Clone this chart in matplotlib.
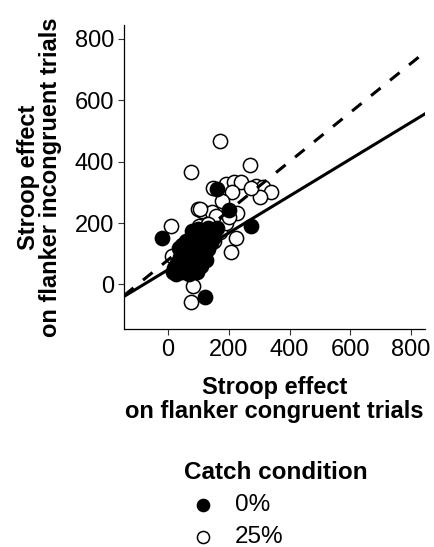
import matplotlib.pyplot as plt
import numpy as np

plt.rcParams["font.family"] = ["Liberation Sans", "DejaVu Sans"]

# Catch condition 25% (open circles)
open_x = [172, 76, 271, 149, 192, 218, 241, 291, 314, 340, 304, 212, 178, 99,
          112, 145, 228, 159, 10, 102, 130, 225, 208, 83, 76, 13, 272, 60, 120,
          150, 40, 90, 170, 190, 200, 105]
open_y = [466, 367, 388, 313, 326, 332, 332, 322, 316, 300, 286, 300, 271, 245,
          238, 235, 234, 222, 190, 190, 196, 152, 105, -5, -57, 93, 315, 100,
          120, 140, 60, 60, 170, 200, 220, 245]

# Catch condition 0% (filled circles)
filled_x = [274, 162, 202, -20, 122, 15, 20, 25, 30, 35, 40, 45, 50, 55, 60, 65,
            70, 75, 80, 85, 90, 95, 100, 105, 110, 115, 120, 125, 130, 140, 150,
            60, 45, 80, 100, 70, 90, 110, 55, 35, 130, 100, 160]
filled_y = [190, 310, 243, 150, -42, 40, 55, 35, 70, 50, 90, 40, 110, 65, 140,
            45, 100, 125, 60, 150, 85, 40, 120, 70, 140, 95, 160, 80, 115, 135,
            155, 80, 130, 175, 180, 35, 110, 60, 95, 120, 185, 150, 185]

# fitted lines (intercept, slope)
dashed_fit = (80, 0.80)
solid_fit = (48, 0.60)

xlim = (-145, 845)
ylim = (-145, 845)
ticks = [0, 200, 400, 600, 800]

fig = plt.figure(figsize=(4.34, 5.47), dpi=100)
ax = fig.add_axes([0.2857, 0.3985, 0.693, 0.556])

ax.scatter(open_x, open_y, s=105, facecolor="white", edgecolor="black",
           linewidth=1.1, zorder=2, label="25%")
ax.scatter(filled_x, filled_y, s=105, facecolor="black", edgecolor="black",
           linewidth=1.1, zorder=3, label="0%")

xx = np.array(xlim)
ax.plot(xx, dashed_fit[0] + dashed_fit[1] * xx, color="black", lw=2.2,
        linestyle=(0, (4.0, 4.0)), zorder=4)
ax.plot(xx, solid_fit[0] + solid_fit[1] * xx, color="black", lw=2.2, zorder=4)

ax.set_xlim(xlim)
ax.set_ylim(ylim)
ax.set_xticks(ticks)
ax.set_yticks(ticks)
ax.tick_params(labelsize=17, length=4, width=0.8, color="#333333",
               labelcolor="black", pad=3)
for side in ["top", "right"]:
    ax.spines[side].set_visible(False)
for side in ["left", "bottom"]:
    ax.spines[side].set_linewidth(0.9)

ax.set_xlabel("Stroop effect\non flanker congruent trials", fontsize=17,
              fontweight="bold", linespacing=1.05, labelpad=11)
ax.set_ylabel("Stroop effect\non flanker incongruent trials", fontsize=17,
              fontweight="bold", linespacing=0.95, labelpad=9)

handles, labels = ax.get_legend_handles_labels()
leg = fig.legend(handles[::-1], labels[::-1], title="Catch condition",
                 loc="upper left", bbox_to_anchor=(162 / 434, 1 - 439 / 547),
                 frameon=False, fontsize=17.5, title_fontsize=17.5,
                 markerscale=0.85, handlelength=1.6, handletextpad=0.5,
                 labelspacing=0.42, alignment="left")
leg.get_title().set_fontweight("bold")

fig.savefig("out.png", dpi=100)
